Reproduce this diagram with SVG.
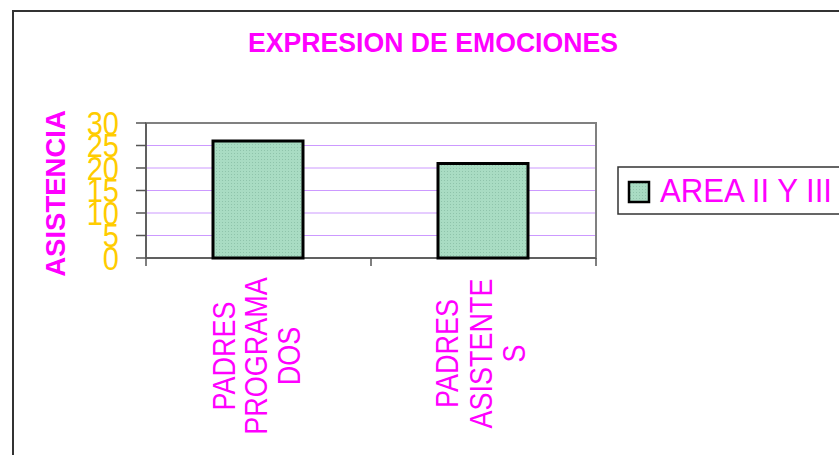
<svg xmlns="http://www.w3.org/2000/svg" width="839" height="455" viewBox="0 0 839 455">
<defs>
<pattern id="dots" width="3" height="3" patternUnits="userSpaceOnUse">
<rect width="3" height="3" fill="#a9dcc3"/>
<rect width="1" height="1" fill="#8fc4ab"/>
</pattern>
<style>
.mag{fill:#ff00ff;font-family:"Liberation Sans",Arial,sans-serif}
.ylab{fill:#ffcc00;font-family:"Liberation Sans",Arial,sans-serif;font-size:29px;text-anchor:end}
.grid{stroke:#cc99ff;stroke-width:1}
.bar{fill:url(#dots);stroke:#000;stroke-width:3}
.cat{font-size:27px;text-anchor:middle}
</style>
</defs>
<rect width="839" height="455" fill="#fff"/>
<path d="M13,455 V11 H839" fill="none" stroke="#333" stroke-width="2"/>
<g id="title"><text class="mag" x="433" y="52" font-size="27" font-weight="bold" text-anchor="middle" textLength="370" lengthAdjust="spacingAndGlyphs">EXPRESION DE EMOCIONES</text></g>
<g id="yaxis-title"><text class="mag" transform="translate(65,193.5) rotate(-90)" font-size="27.5" font-weight="bold" text-anchor="middle">ASISTENCIA</text></g>
<g id="plot">
<rect x="146" y="123" width="450" height="135" fill="#fff" stroke="#808080" stroke-width="2"/>
<line class="grid" x1="147" y1="145.5" x2="595" y2="145.5"/>
<line class="grid" x1="147" y1="168" x2="595" y2="168"/>
<line class="grid" x1="147" y1="190.5" x2="595" y2="190.5"/>
<line class="grid" x1="147" y1="213" x2="595" y2="213"/>
<line class="grid" x1="147" y1="235.5" x2="595" y2="235.5"/>
<path d="M146,123 V266 M136,123 H146 M136,145.5 H146 M136,168 H146 M136,190.5 H146 M136,213 H146 M136,235.5 H146 M136,258 H596 M371,258 V266 M596,258 V266" fill="none" stroke="#555" stroke-width="1.5"/>
</g>
<g id="ylabels">
<text class="ylab" transform="translate(119,123) scale(1,1.12)" y="10.4">30</text>
<text class="ylab" transform="translate(119,145.5) scale(1,1.12)" y="10.4">25</text>
<text class="ylab" transform="translate(119,168) scale(1,1.12)" y="10.4">20</text>
<text class="ylab" transform="translate(119,190.5) scale(1,1.12)" y="10.4">15</text>
<text class="ylab" transform="translate(119,213) scale(1,1.12)" y="10.4">10</text>
<text class="ylab" transform="translate(119,235.5) scale(1,1.12)" y="10.4">5</text>
<text class="ylab" transform="translate(119,258) scale(1,1.12)" y="10.4">0</text>
</g>
<g id="bar1"><rect class="bar" x="213" y="141" width="90" height="117"/></g>
<g id="bar2"><rect class="bar" x="438" y="163.5" width="90" height="94.5"/></g>
<g id="cat1">
<text class="mag cat" transform="translate(235,356) rotate(-90) scale(1,1.15)">PADRES</text>
<text class="mag cat" transform="translate(267,356) rotate(-90) scale(1,1.15)">PROGRAMA</text>
<text class="mag cat" transform="translate(300,356) rotate(-90) scale(1,1.15)">DOS</text>
</g>
<g id="cat2">
<text class="mag cat" transform="translate(458,353.5) rotate(-90) scale(1,1.15)">PADRES</text>
<text class="mag cat" transform="translate(492,353.5) rotate(-90) scale(1,1.15)">ASISTENTE</text>
<text class="mag cat" transform="translate(525,353.5) rotate(-90) scale(1,1.15)">S</text>
</g>
<g id="legend">
<rect x="618" y="167" width="230" height="47" fill="#fff" stroke="#333" stroke-width="1.5"/>
<rect x="629" y="182" width="20" height="20" fill="url(#dots)" stroke="#000" stroke-width="2.5"/>
<text class="mag" transform="translate(660,202) scale(1,1.08)" font-size="30" textLength="172" lengthAdjust="spacingAndGlyphs">AREA II Y III</text>
</g>
</svg>
